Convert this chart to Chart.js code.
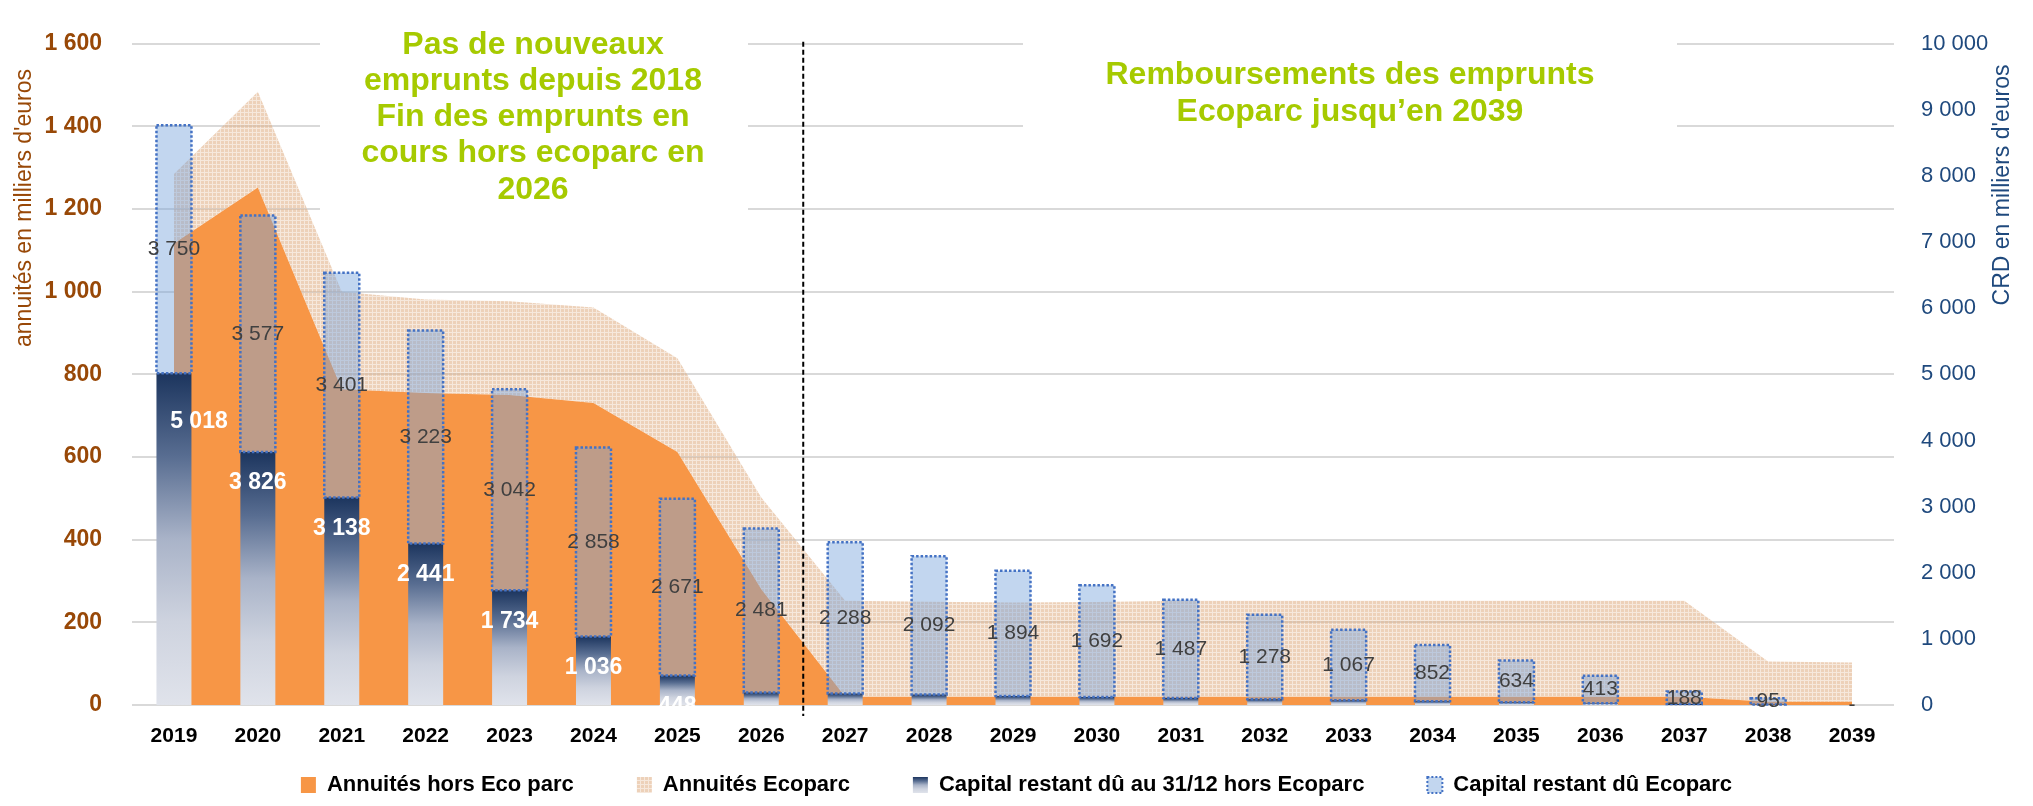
<!DOCTYPE html>
<html>
<head>
<meta charset="utf-8">
<script src="https://cdn.jsdelivr.net/npm/chart.js"></script>
<style>
  body { margin: 0; background: #ffffff; }
</style>
</head>
<body>
<canvas id="chart" width="2033" height="806"></canvas>
<script>
// données en milliers d'euros
const annees = ['2019', '2020', '2021', '2022', '2023', '2024', '2025', '2026', '2027', '2028', '2029',
                '2030', '2031', '2032', '2033', '2034', '2035', '2036', '2037', '2038', '2039'];
const annuitesHorsEco = [1117, 1252, 764, 755, 750, 731, 612, 280, 20, 20, 20, 20, 20, 20, 20, 20, 20, 20, 20, 8, 8];
const annuitesEco = [168, 232, 236, 226, 227, 231, 227, 222, 232, 230, 228, 229, 232, 232, 232, 232, 232, 232, 232, 97, 95];
const crdHorsEco = [5018, 3826, 3138, 2441, 1734, 1036, 448, 190, 175, 158, 138, 120, 104, 86, 72, 55, 40, 28, 15, 6, 0];
const crdEco = [3750, 3577, 3401, 3223, 3042, 2858, 2671, 2481, 2288, 2092, 1894, 1692, 1487, 1278, 1067, 852, 634, 413, 188, 95, 0];

const annuitesMax = 1600, annuitesPas = 200;
const crdMax = 10000, crdPas = 1000;

const notes = [
    { x: 533, y: 45, pas: 36.2, lignes: ['Pas de nouveaux', 'emprunts depuis 2018', 'Fin des emprunts en', 'cours hors ecoparc en', '2026'] },
    { x: 1350, y: 75, pas: 37, lignes: ['Remboursements des emprunts', 'Ecoparc jusqu\u2019en 2039'] }
];
// cadres blancs derrière les textes
const cadres = [
    { x: 320, y: 0, w: 428, h: 212 },
    { x: 1023, y: 30, w: 654, h: 115 }
];
// étiquette 2019 déplacée à la main dans l'original
const decalageHors = { 0: { dx: 25, dy: 17 } };

const police = '"Liberation Sans", Arial, sans-serif';
Chart.defaults.font.family = police;

function espace(n) {
    return String(n).replace(/\B(?=(\d{3})+(?!\d))/g, ' ');
}
function etiquette(n) {
    return n === 0 ? '-' : espace(n);
}

const canvas = document.getElementById('chart');
const ctx = canvas.getContext('2d');

// motif quadrillé beige (annuités Ecoparc)
function motifEco() {
    const t = document.createElement('canvas');
    t.width = 4; t.height = 4;
    const g = t.getContext('2d');
    g.fillStyle = 'rgba(225, 178, 138, 0.6)';
    g.fillRect(0, 0, 4, 4);
    g.clearRect(0, 0, 4, 1);
    g.clearRect(0, 0, 1, 4);
    g.fillStyle = 'rgba(225, 178, 138, 0.3)';
    g.fillRect(0, 0, 4, 1);
    g.fillRect(0, 1, 1, 3);
    return ctx.createPattern(t, 'repeat');
}
const motif = motifEco();

function couleursDegrade(g) {
    g.addColorStop(0, '#1C355E');
    g.addColorStop(0.25, '#586D91');
    g.addColorStop(0.5, '#A9B3C8');
    g.addColorStop(0.75, '#CED3DF');
    g.addColorStop(1, '#E0E3EB');
    return g;
}

// dégradé bleu nuit -> gris clair, barre par barre
function degradeCrd(context) {
    const chart = context.chart;
    const y2 = chart.scales.y2;
    if (!y2 || context.type !== 'data') return '#1C355E';
    const haut = y2.getPixelForValue(context.raw);
    const bas = y2.getPixelForValue(0);
    if (!isFinite(haut) || !isFinite(bas) || bas - haut < 1) return '#1C355E';
    return couleursDegrade(chart.ctx.createLinearGradient(0, haut, 0, bas));
}

const habillage = {
    id: 'habillage',
    beforeDatasetsDraw(chart) {
        const c = chart.ctx;
        c.save();
        c.fillStyle = '#ffffff';
        cadres.forEach(b => c.fillRect(b.x, b.y, b.w, b.h));
        c.restore();
    },
    afterDatasetsDraw(chart) {
        const c = chart.ctx;
        const barresHors = chart.getDatasetMeta(2).data;
        const barresEco = chart.getDatasetMeta(3).data;
        c.save();

        // contour pointillé des barres Ecoparc
        c.strokeStyle = '#4472C4';
        c.lineWidth = 2.5;
        c.setLineDash([2.5, 2]);
        barresEco.forEach((b, i) => {
            if (!crdEco[i]) return;
            c.strokeRect(b.x - b.width / 2, b.y, b.width, b.base - b.y);
        });

        // séparation 2026 / 2027
        const sx = chart.scales.x;
        const xs = (sx.getPixelForValue(7) + sx.getPixelForValue(8)) / 2;
        c.strokeStyle = '#000000';
        c.lineWidth = 2;
        c.setLineDash([5, 3]);
        c.beginPath();
        c.moveTo(xs, chart.chartArea.top - 2);
        c.lineTo(xs, chart.chartArea.bottom + 11);
        c.stroke();
        c.setLineDash([]);

        // étiquettes de données
        c.textAlign = 'center';
        c.textBaseline = 'middle';
        c.font = 'bold 23px ' + police;
        c.fillStyle = '#ffffff';
        barresHors.forEach((b, i) => {
            if (crdHorsEco[i] < 400) return;
            const d = decalageHors[i] || { dx: 0, dy: 0 };
            c.fillText(espace(crdHorsEco[i]), b.x + d.dx, b.y + 31 + d.dy);
        });
        c.font = '21px ' + police;
        c.fillStyle = '#404040';
        barresEco.forEach((b, i) => {
            c.fillText(etiquette(crdEco[i]), b.x, (b.y + b.base) / 2);
        });
        c.restore();
    },
    afterDraw(chart) {
        const c = chart.ctx;
        c.save();
        c.textAlign = 'center';
        c.textBaseline = 'middle';

        // titres des axes
        c.font = '23px ' + police;
        c.fillStyle = '#984807';
        c.save();
        c.translate(25, 208);
        c.rotate(-Math.PI / 2);
        c.fillText('annuités en milliers d\'euros', 0, 0);
        c.restore();
        c.fillStyle = '#1F497D';
        c.save();
        c.translate(2003, 185);
        c.rotate(-Math.PI / 2);
        c.fillText('CRD en milliers d\'euros', 0, 0);
        c.restore();

        // commentaires verts
        c.font = 'bold 32px ' + police;
        c.fillStyle = '#A6CA00';
        notes.forEach(n => {
            n.lignes.forEach((l, k) => c.fillText(l, n.x, n.y + k * n.pas));
        });
        c.restore();
    }
};

new Chart(ctx, {
    type: 'bar',
    data: {
        labels: annees,
        datasets: [
            {
                type: 'line',
                label: 'Annuités hors Eco parc',
                data: annuitesHorsEco,
                yAxisID: 'y',
                backgroundColor: '#F79646',
                borderColor: 'rgba(0,0,0,0)',
                borderWidth: 0,
                pointRadius: 0,
                tension: 0,
                fill: 'origin',
                order: 1
            },
            {
                type: 'line',
                label: 'Annuités Ecoparc',
                data: annuitesEco,
                yAxisID: 'y',
                backgroundColor: motif,
                borderColor: 'rgba(0,0,0,0)',
                borderWidth: 0,
                pointRadius: 0,
                tension: 0,
                fill: '-1',
                order: 1
            },
            {
                label: 'Capital restant dû au 31/12 hors Ecoparc',
                data: crdHorsEco,
                yAxisID: 'y2',
                backgroundColor: degradeCrd,
                barPercentage: 0.417,
                categoryPercentage: 1,
                order: 0
            },
            {
                label: 'Capital restant dû Ecoparc',
                data: crdEco,
                yAxisID: 'y2',
                backgroundColor: 'rgba(120, 165, 220, 0.45)',
                barPercentage: 0.417,
                categoryPercentage: 1,
                order: 0
            }
        ]
    },
    options: {
        responsive: false,
        animation: false,
        events: [],
        layout: { padding: { top: 20, left: 0, right: 0, bottom: 0 } },
        plugins: {
            tooltip: { enabled: false },
            legend: {
                position: 'bottom',
                labels: {
                    color: '#000000',
                    font: { size: 22, weight: 'bold' },
                    boxWidth: 15,
                    boxHeight: 16,
                    padding: 63,
                    generateLabels(chart) {
                        const items = Chart.defaults.plugins.legend.labels.generateLabels(chart);
                        items.sort((a, b) => a.datasetIndex - b.datasetIndex);
                        items.forEach(it => {
                            it.lineWidth = 0;
                            it.strokeStyle = 'rgba(0,0,0,0)';
                            it.lineDash = [];
                            if (it.datasetIndex === 2) {
                                it.fillStyle = couleursDegrade(chart.ctx.createLinearGradient(0, chart.height - 29, 0, chart.height - 13));
                            }
                            if (it.datasetIndex === 3) {
                                it.lineWidth = 2;
                                it.strokeStyle = '#4472C4';
                                it.lineDash = [2, 2];
                            }
                        });
                        return items;
                    }
                }
            }
        },
        scales: {
            x: {
                stacked: true,
                offset: true,
                grid: { display: false, drawTicks: false },
                border: { display: false },
                ticks: {
                    color: '#000000',
                    font: { size: 21, weight: 'bold' },
                    // mirror : labels non rognés, posés sous l'axe par le padding négatif
                    mirror: true,
                    padding: -44,
                    maxRotation: 0,
                    minRotation: 0,
                    autoSkip: false
                },
                afterFit(s) { s.height = 6; }
            },
            y: {
                position: 'left',
                stacked: true,
                min: 0,
                max: annuitesMax,
                ticks: {
                    stepSize: annuitesPas,
                    color: '#984807',
                    font: { size: 23, weight: 'bold' },
                    padding: 30,
                    callback: v => espace(v)
                },
                grid: { color: '#D9D9D9', lineWidth: 2, drawTicks: false },
                border: { display: false },
                afterFit(s) { s.width = 132; }
            },
            y2: {
                position: 'right',
                stacked: true,
                min: 0,
                max: crdMax,
                ticks: {
                    stepSize: crdPas,
                    color: '#1F497D',
                    font: { size: 22 },
                    padding: 27,
                    callback: v => espace(v)
                },
                grid: { display: false, drawTicks: false },
                border: { display: false },
                afterFit(s) { s.width = 139; }
            }
        }
    },
    plugins: [habillage]
});
</script>
</body>
</html>
